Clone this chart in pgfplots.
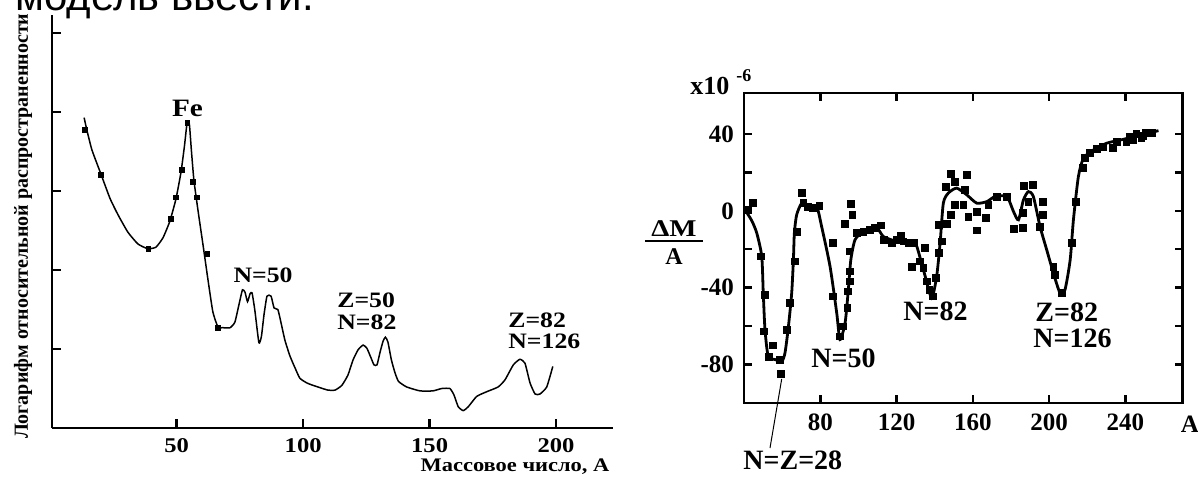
\documentclass[border=0pt]{standalone}
\usepackage{fontspec}
\setmainfont{Liberation Serif}
\newfontfamily\lst[FakeStretch=1.17]{Liberation Serif}
\newfontfamily\topf{Liberation Sans}
\usepackage{pgfplots}
\pgfplotsset{compat=1.18}
\begin{document}
\begin{tikzpicture}
% ---------------- left chart ----------------
\begin{axis}[at={(26pt,24.5pt)}, anchor=south west, scale only axis,
  width=280.5pt, height=206.5pt,
  xmin=0.7, xmax=222.5, ymin=0, ymax=5.23,
  axis x line=bottom, axis y line=left,
  axis line style={-, line width=1.4pt},
  tick align=inside, major tick length=4.5pt,
  tick style={line width=1.2pt, black},
  xtick={50,100,150,200}, xticklabels={50,100,150,200},
  ytick={1,2,3,4,5}, yticklabels={},
  xticklabel style={font=\lst\bfseries\fontsize{10.5}{12}\selectfont, yshift=-1.5pt},
  clip=false]
\addplot[black, line width=0.75pt, smooth, tension=0.3] coordinates {
(13.4,3.93) (14.5,3.77) (16.5,3.52) (20.0,3.22) (23.6,2.91) (26.8,2.70) (30.7,2.48)
(34.7,2.33) (38.6,2.27) (41.8,2.29) (44.6,2.41) (47.3,2.62) (49.7,2.90) (51.7,3.24)
(53.1,3.58) (54.1,3.86) (55.0,3.85) (55.8,3.52) (56.8,3.14) (58.4,2.76) (60.4,2.32)
(62.4,1.87) (64.3,1.47) (66.3,1.28) (68.3,1.27) (71.1,1.27) (73.0,1.34) (74.6,1.56)
(76.0,1.75) (77.0,1.72) (78.0,1.60) (79.0,1.70) (79.8,1.71) (80.9,1.49) (82.5,1.08)
(83.5,1.16) (84.5,1.43) (85.7,1.67) (87.3,1.67) (88.5,1.52) (90.0,1.50) (91.2,1.34)
(92.8,1.11) (94.8,0.91) (96.8,0.76) (98.7,0.63) (101.5,0.57) (103.9,0.54) (106.7,0.51)
(109.8,0.48) (112.6,0.48) (115.3,0.54) (117.7,0.67) (119.7,0.86) (121.7,0.99) (123.7,1.05)
(125.2,1.01) (126.8,0.89) (128.0,0.80) (129.2,0.80) (130.4,0.96) (131.6,1.10) (132.5,1.15)
(133.5,1.09) (134.9,0.86) (136.3,0.70) (137.7,0.59) (140.9,0.52) (146.2,0.47) (151.3,0.47)
(154.8,0.50) (158.0,0.50) (159.6,0.42) (161.3,0.27) (163.3,0.22) (165.3,0.27) (168.6,0.40)
(172.6,0.46) (177.1,0.52) (179.8,0.61) (183.1,0.80) (185.7,0.87) (187.7,0.82) (189.7,0.57)
(191.7,0.43) (193.6,0.43) (196.3,0.52) (198.7,0.78)
};
\addplot[only marks, mark=square*, mark size=1.2pt, black] coordinates {
(13.7,3.78) (20.0,3.21) (38.8,2.27) (47.6,2.65) (49.6,2.92) (52.0,3.27)
(54.2,3.86) (56.3,3.12) (58.1,2.92) (62.1,2.20) (66.4,1.27)
};
\end{axis}
% left annotations
\node[font=\lst\bfseries\fontsize{12.5}{14}\selectfont] at (93.75pt,184.5pt) {Fe};
\node[font=\lst\bfseries\fontsize{11}{13}\selectfont] at (131.5pt,101pt) {N=50};
\node[anchor=west, inner sep=0, font=\lst\bfseries\fontsize{11}{13}\selectfont] at (168.5pt,88.5pt) {Z=50};
\node[anchor=west, inner sep=0, font=\lst\bfseries\fontsize{11}{13}\selectfont] at (168.5pt,77.5pt) {N=82};
\node[anchor=west, inner sep=0, font=\lst\bfseries\fontsize{11}{13}\selectfont] at (254pt,78.5pt) {Z=82};
\node[anchor=west, inner sep=0, font=\lst\bfseries\fontsize{11}{13}\selectfont] at (254pt,68pt) {N=126};
\node[font=\lst\bfseries\fontsize{9.6}{11}\selectfont] at (257.5pt,5pt) {Массовое число, А};
\node[rotate=90, font=\bfseries\fontsize{10}{12}\selectfont] at (11.5pt,125.5pt) {Логарифм относительной распространенности};
% ---------------- right chart ----------------
\begin{axis}[at={(372pt,37pt)}, anchor=south west, scale only axis,
  width=219.35pt, height=155pt,
  xmin=40, xmax=270, ymin=-100, ymax=61.3,
  axis line style={line width=1.25pt},
  tick align=inside, major tick length=4pt,
  tick style={line width=1.2pt, black},
  xtick={80,120,160,200,240}, xticklabels={80,120,160,200,240},
  ytick={-80,-60,-40,-20,0,20,40}, yticklabels={-80,,-40,,0,,40},
  ticklabel style={font=\bfseries\fontsize{12.5}{14}\selectfont},
  xticklabel style={yshift=-2pt}, yticklabel style={xshift=-1.5pt},
  clip=false]
\addplot[black, line width=1.4pt, smooth, tension=0.4] coordinates {
(40.5,0.5) (44,-5) (46.7,-11.6) (49.3,-23.7) (50.1,-42.8) (51,-61.8) (52.7,-75.7)
(56.3,-77.4) (59.8,-78.3) (61.5,-73.9) (63.3,-60.1) (65,-42.8) (65.9,-25.5) (66.4,-11.6)
(67.6,-2.1) (70.3,4) (73.7,2.2) (78.1,2.2) (80.7,-8.2) (85.1,-28.9) (88.6,-53.1)
(90.3,-67) (93,-58.3) (94.7,-41) (96,-25.5) (98.2,-15.1) (102.6,-10.8) (109.6,-9)
(113.1,-13.4) (120.1,-15.9) (128.8,-16.8) (130.6,-18.5) (135,-34.1) (138.4,-45.4)
(141,-34.1) (142.8,-16.8) (144.5,4) (147.1,9.2) (151.5,11.8) (156.8,8.3) (162,4)
(167.3,4.8) (171.6,7.4) (177.8,7.4) (181.3,-0.4) (183.9,-4.7) (186.5,5.7) (189.1,10)
(191.7,7.4) (195.2,-8.2) (198.7,-20.3) (202.2,-32.4) (205.7,-42.8) (208.3,-41)
(211,-25.5) (212.7,-4.7) (215.3,17.8) (218,27.4) (223.2,31.7) (230.2,35.2)
(238.9,37.2) (247.7,39.5) (257.3,41.7)
};
\addplot[only marks, mark=square*, mark size=1.7pt, black] coordinates {
(42.3,0.5) (44.6,4.3) (48.8,-23.7) (51,-43.6) (50.6,-62.7) (55,-70) (53.2,-76.2)
(58.9,-77.4) (59.4,-84.7) (62.4,-61.8) (64.1,-47.9) (66.7,-26.3) (67.6,-10.8)
(70.3,9.2) (71.1,4.3) (73.7,2.2) (76,1.4) (79.5,2.6) (86.5,-16.8) (86.8,-44.5)
(90.3,-65.3) (91.7,-60.1) (94.2,-50.5) (94.4,-41.9) (95.6,-36.7) (95.6,-31.5)
(95.3,-21.1) (93,-6.9) (96,3.6) (96.8,-2.1) (99.1,-11.6) (102.6,-10.8) (106.1,-9.9)
(108.7,-9) (111.7,-7.6) (113.4,-15.1) (117.5,-16.5) (120.1,-15.1) (122.2,-12.8)
(123.6,-15.9) (126.5,-16.8) (129.3,-16.8) (127.9,-29.2) (132.3,-26.3) (134,-29.8)
(134.9,-19.4) (135.8,-36.7) (137.2,-41) (139,-44.5) (140.7,-35) (142,-22)
(143.7,-15.9) (142,-7.3) (146.3,-6.9) (148.4,-2.1) (145.9,12.3) (148.4,19.2)
(150.6,15.2) (150.6,3.1) (155,3.1) (156.8,18.7) (155.9,10.9) (157.6,-3) (162,-0.4)
(162,-10.2) (166.9,-3.8) (168.1,3.1) (172.5,7.4) (177.8,7.4) (181.3,-9.5) (186.2,-9)
(186.2,-1.2) (186.8,13) (191.4,13.5) (189.1,4.8) (196.9,4.8) (196.9,-2.1) (195.2,-8.2)
(202.2,-29.2) (203.1,-33.2) (206.6,-42.8) (211.8,-16.8) (214,4.8) (217.5,22.2)
(218.7,27.4) (221.3,30) (224.8,32.1) (228.3,33.4) (233.5,32.6) (235.3,36) (240.5,36)
(242.2,38.6) (244.1,36.9) (245.7,40) (248.3,37.8) (249.3,39) (250.9,40.4) (253.7,40.7)
};
\end{axis}
% right annotations
\node[anchor=west, inner sep=0, font=\bfseries\fontsize{14}{16}\selectfont] at (405.5pt,59.5pt) {N=50};
\node[anchor=west, inner sep=0, font=\bfseries\fontsize{14}{16}\selectfont] at (451.5pt,83pt) {N=82};
\node[anchor=west, inner sep=0, font=\bfseries\fontsize{14}{16}\selectfont] at (517.5pt,82.5pt) {Z=82};
\node[anchor=west, inner sep=0, font=\bfseries\fontsize{14}{16}\selectfont] at (516.5pt,69.5pt) {N=126};
\node[anchor=west, inner sep=0, font=\bfseries\fontsize{14}{16}\selectfont] at (371.5pt,8.5pt) {N=Z=28};
\draw[line width=0.5pt] (390.85pt,49pt) -- (385pt,14.5pt);
\node[font=\bfseries\fontsize{12.5}{14}\selectfont] at (595pt,26.5pt) {A};
\node[anchor=base west, inner sep=0, font=\bfseries\fontsize{13}{15}\selectfont] at (345pt,191pt) {x10};
\node[anchor=base west, inner sep=0, font=\bfseries\fontsize{9}{11}\selectfont] at (368pt,197.5pt) {-6};
\node[font=\bfseries\fontsize{12}{14}\selectfont] at (337pt,124pt) {\scalebox{1.2}[1]{ΔM}};
\draw[line width=1pt] (322.5pt,118pt) -- (351.5pt,118pt);
\node[font=\bfseries\fontsize{12}{14}\selectfont] at (337pt,110pt) {A};
% top cut-off text
\node[anchor=base west, inner sep=0, font=\topf\fontsize{21}{25}\selectfont] at (7.5pt,233pt) {модель ввести.};
\pgfresetboundingbox
\path[use as bounding box] (0,0) rectangle (599pt,238.5pt);
\end{tikzpicture}
\end{document}
